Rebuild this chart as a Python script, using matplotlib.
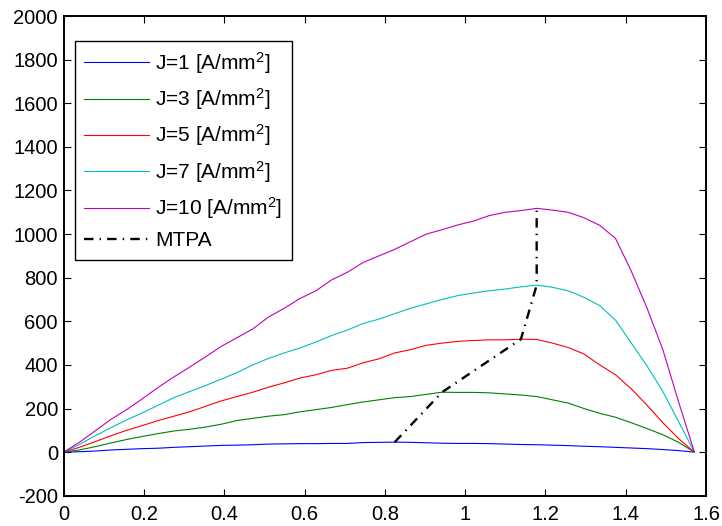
import numpy as np
import matplotlib
matplotlib.use('Agg')
import matplotlib.pyplot as plt
from matplotlib.ticker import FuncFormatter

plt.rcParams['font.family'] = ['Liberation Sans', 'DejaVu Sans']
plt.rcParams['mathtext.fontset'] = 'custom'
plt.rcParams['mathtext.rm'] = 'Liberation Sans'
plt.rcParams['mathtext.it'] = 'Liberation Sans:italic'

# current angle (rad), 41 steps from 0 to pi/2
beta = np.linspace(0, np.pi / 2, 41)

torque_j1 = [0, 2, 5, 10, 13, 16, 18, 22, 25, 28, 31, 32, 34, 37, 38, 39, 39, 40, 40, 44,
             45, 46, 45, 43, 41, 40, 40, 39, 37, 35, 34, 32, 30, 27, 25, 22, 19, 16, 12, 7, 0]
torque_j3 = [0, 10, 25, 42, 58, 72, 85, 97, 105, 115, 128, 145, 155, 165, 172, 185, 195, 205, 218, 230,
             240, 250, 255, 265, 275, 274, 274, 272, 267, 262, 255, 240, 225, 200, 178, 160, 135, 108, 80, 45, 0]
torque_j5 = [0, 22, 48, 75, 100, 122, 145, 165, 185, 210, 235, 255, 275, 298, 318, 340, 355, 375, 385, 410,
             428, 455, 470, 490, 500, 508, 512, 515, 515, 518, 517, 500, 480, 450, 400, 355, 290, 215, 135, 62, 0]
torque_j7 = [0, 35, 75, 112, 148, 180, 215, 250, 278, 305, 335, 365, 400, 430, 455, 478, 505, 535, 560, 590,
             610, 635, 660, 680, 700, 718, 730, 740, 748, 758, 766, 756, 740, 710, 672, 605, 500, 395, 278, 140, 0]
torque_j10 = [0, 45, 97, 150, 195, 245, 297, 345, 390, 437, 485, 525, 565, 620, 660, 705, 740, 790, 825, 870,
              900, 930, 965, 1000, 1020, 1042, 1060, 1085, 1100, 1108, 1118, 1110, 1100, 1075, 1040, 980, 830, 660, 470, 230, 0]

labels = ['J=1 [A/mm$^2$]', 'J=3 [A/mm$^2$]', 'J=5 [A/mm$^2$]', 'J=7 [A/mm$^2$]', 'J=10 [A/mm$^2$]']
colors = ['#0000ff', '#008000', '#ff0000', '#00bfbf', '#bf00bf']
curves = [torque_j1, torque_j3, torque_j5, torque_j7, torque_j10]

fig = plt.figure(figsize=(7.22, 5.26), dpi=100)
ax = fig.add_axes([0.088, 0.0575, 0.89, 0.912])

for t, c, lab in zip(curves, colors, labels):
    ax.plot(beta, t, color=c, lw=0.8, label=lab)

# MTPA: maximum torque point of each current density
idx = [int(np.argmax(t)) for t in curves]
mtpa_x = beta[idx]
mtpa_y = [t[i] for t, i in zip(curves, idx)]
ax.plot(mtpa_x, mtpa_y, color='k', lw=1.7, linestyle=(0, (4, 2.6, 0.6, 2.6)), label='MTPA')

ax.set_xlim(0, 1.6)
ax.set_ylim(-200, 2000)
ax.set_xticks(np.arange(0, 1.61, 0.2))
ax.set_yticks(np.arange(-200, 2001, 200))
ax.xaxis.set_major_formatter(FuncFormatter(lambda v, p: '%g' % round(v, 2)))
ax.yaxis.set_major_formatter(FuncFormatter(lambda v, p: '%g' % v))

ax.tick_params(direction='in', length=4.7, width=0.8, labelsize=14.5, top=True, right=True)
ax.tick_params(axis='y', pad=4)
ax.tick_params(axis='x', pad=7)
for s in ax.spines.values():
    s.set_linewidth(1.4)

leg = ax.legend(loc='upper left', bbox_to_anchor=(0.018, 0.949), borderaxespad=0,
                fontsize=15, handlelength=3.1, handletextpad=0.3, labelspacing=0.5,
                borderpad=0.45, fancybox=False, framealpha=1, edgecolor='k')
leg.get_frame().set_linewidth(1.0)

plt.savefig('out.png', dpi=100)
